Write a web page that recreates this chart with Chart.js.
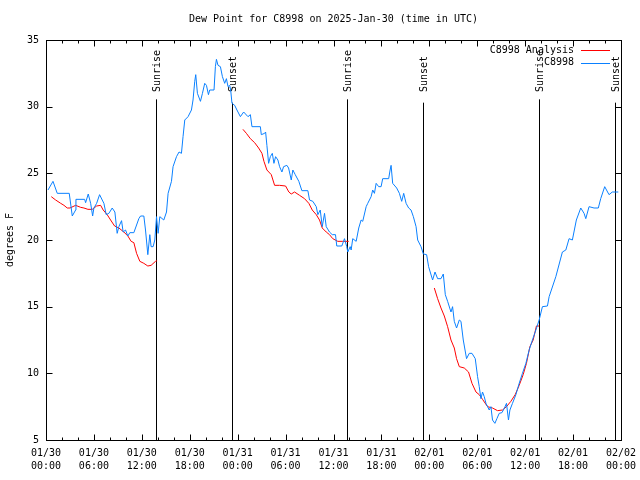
<!DOCTYPE html>
<html>
<head>
<meta charset="utf-8">
<script src="https://cdn.jsdelivr.net/npm/chart.js@4/dist/chart.umd.min.js"></script>
<style>
html,body{margin:0;padding:0;background:#fff;}
canvas{display:block;}
</style>
</head>
<body>
<canvas id="c" width="640" height="480"></canvas>
<script>
// Hours since 2025-01-30 00:00 UTC
const stationHours = [0.25,0.875,1.41,2.91,3.29,3.71,3.75,4.84,4.96,5.29,5.59,5.84,6.0,6.34,6.71,7.04,7.25,7.54,7.875,8.29,8.625,8.91,9.125,9.46,9.66,9.96,10.25,10.5,11.0,11.625,11.84,12.25,12.46,12.75,13.0,13.16,13.41,13.625,13.84,14.04,14.25,14.75,15.09,15.29,15.71,15.91,16.34,16.66,16.96,17.16,17.375,17.79,18.21,18.41,18.625,18.75,18.96,19.34,19.59,19.875,20.09,20.34,20.5,21.04,21.21,21.34,21.54,21.84,22.09,22.375,22.59,22.79,23.0,23.125,23.29,23.625,23.91,24.34,24.75,25.29,25.59,25.79,26.84,26.96,27.375,27.5,27.66,27.875,28.09,28.34,28.54,28.75,29.04,29.25,29.54,29.75,30.16,30.375,30.71,30.91,31.21,31.66,32.04,32.79,33.0,33.41,33.84,34.04,34.34,34.59,34.875,35.09,35.5,35.84,36.25,36.41,37.04,37.375,37.66,37.79,38.09,38.21,38.41,38.84,39.16,39.46,39.66,40.09,40.29,40.71,40.91,41.125,41.34,41.66,41.96,42.16,42.91,43.09,43.21,43.41,43.91,44.25,44.54,44.79,45.09,45.41,45.71,46.0,46.34,46.54,46.96,47.25,47.66,47.91,48.41,48.71,49.04,49.46,49.75,50.0,50.29,50.71,50.91,51.125,51.41,51.75,51.96,52.25,52.66,53.0,53.34,53.75,54.04,54.25,54.46,54.66,54.875,55.09,55.5,55.71,55.91,56.21,56.46,56.75,57.09,57.41,57.66,57.91,58.09,58.41,58.84,59.25,59.66,60.09,60.5,60.91,61.34,61.75,62.16,62.79,63.0,63.84,64.66,65.09,65.5,65.91,66.41,66.96,67.375,67.59,68.0,68.625,69.16,69.46,69.96,70.5,70.91,71.66];
const stationDewPoint = [23.75,24.4,23.5,23.5,21.8,22.25,23.05,23.05,22.8,23.45,22.75,21.8,22.4,22.75,23.4,23.0,22.75,21.9,22.0,22.4,22.1,20.5,21.0,21.45,20.6,20.75,20.3,20.55,20.55,21.6,21.8,21.8,20.75,18.9,20.4,19.5,19.5,20.0,21.75,20.5,21.75,21.5,22.1,23.5,24.4,25.5,26.25,26.6,26.5,27.75,29.0,29.25,29.75,30.5,31.9,32.4,31.0,30.4,31.0,31.75,31.6,30.9,31.25,31.25,33.0,33.55,33.1,33.0,32.25,31.75,32.1,31.5,31.6,31.25,30.25,30.1,29.75,29.25,29.6,29.25,29.4,28.5,28.5,27.9,28.0,28.1,27.1,25.75,26.25,26.5,25.75,26.25,26.0,25.5,25.1,25.5,25.6,25.4,24.5,25.25,24.9,24.4,23.7,23.7,23.0,22.9,22.5,21.9,22.25,21.0,22.0,21.0,20.6,20.4,20.4,19.55,19.55,20.1,19.5,19.1,19.5,19.25,20.1,19.9,20.9,21.5,21.4,22.5,22.75,23.25,23.75,23.5,24.25,24.0,24.0,24.6,24.6,25.25,25.6,24.25,23.9,23.5,22.9,23.5,22.75,22.4,22.25,21.75,21.0,20.0,19.5,18.95,18.9,18.0,17.0,17.6,17.1,17.1,17.45,15.9,15.4,14.6,15.0,13.9,13.4,14.0,13.9,12.5,11.1,11.5,11.5,11.1,9.75,9.0,8.1,8.6,8.25,7.75,7.25,7.5,6.5,6.25,6.6,7.0,7.05,7.4,7.75,6.5,7.25,7.75,8.4,9.25,10.0,10.75,11.75,12.5,13.25,14.0,15.0,15.05,15.75,17.25,19.1,19.25,20.1,20.0,21.5,22.4,22.0,21.6,22.5,22.4,22.4,23.1,24.0,23.4,23.6,23.6];

const analysisHours = [0.66,1.21,1.84,2.25,2.66,3.0,3.71,4.34,4.75,5.25,5.79,6.34,6.84,7.16,7.66,8.09,8.59,9.125,9.75,10.25,10.66,11.0,11.34,11.75,12.25,12.75,13.16,13.71,13.91,19.0,24.66,25.09,25.59,26.125,26.625,27.04,27.29,27.66,28.21,28.625,29.25,30.0,30.41,30.71,31.125,31.75,32.375,32.91,33.34,33.84,34.25,34.59,35.09,35.5,35.91,36.54,37.16,37.91,43.0,48.625,49.04,49.46,49.875,50.29,50.71,51.125,51.41,51.75,52.375,52.91,53.34,53.84,54.25,54.66,55.29,55.91,56.54,57.16,57.66,58.21,58.75,59.25,59.75,60.16,60.59,61.0,61.41,61.75];
const analysisDewPoint = [23.25,23.0,22.75,22.6,22.4,22.4,22.6,22.45,22.4,22.3,22.3,22.55,22.6,22.25,21.9,21.5,21.05,20.9,20.6,20.3,19.9,19.8,19.0,18.4,18.25,18.05,18.1,18.4,18.45,null,28.3,28.0,27.6,27.3,26.9,26.5,25.9,25.25,24.9,24.1,24.1,24.05,23.6,23.45,23.6,23.35,23.1,22.75,22.25,21.9,21.5,20.9,20.6,20.4,20.1,19.9,19.9,19.9,null,16.4,15.6,14.9,14.3,13.5,12.5,11.9,11.1,10.5,10.4,10.1,9.25,8.6,8.4,8.05,7.5,7.4,7.2,7.25,7.5,7.9,8.4,9.1,9.9,10.75,12.0,12.5,13.55,13.55];

const sunEventHours = [13.75, 23.3, 37.7, 47.25, 61.7, 71.3];
const sunEventNames = ['Sunrise','Sunset','Sunrise','Sunset','Sunrise','Sunset'];

const tickDates = ['01/30','01/30','01/30','01/30','01/31','01/31','01/31','01/31','02/01','02/01','02/01','02/01','02/02'];
const tickTimes = ['00:00','06:00','12:00','18:00','00:00','06:00','12:00','18:00','00:00','06:00','12:00','18:00','00:00'];
const yTickValues = [5,10,15,20,25,30,35];

const titleText = 'Dew Point for C8998 on 2025-Jan-30 (time in UTC)';
const yTitleText = 'degrees F';
const seriesNames = ['C8998 Analysis', 'C8998'];
const seriesColors = ['#ff0000', '#0a80ff'];

const FONT = '10px "DejaVu Sans Mono", "Liberation Mono", monospace';

function pts(xs, ys){ return xs.map((x,i)=>({x:x, y:ys[i]})); }

const decor = {
  id: 'decor',
  beforeDatasetsDraw(chart){
    const ctx = chart.ctx, xs = chart.scales.x, ys = chart.scales.y, a = chart.chartArea;
    ctx.save();
    ctx.strokeStyle = '#000'; ctx.lineWidth = 1;
    ctx.font = FONT; ctx.fillStyle = '#000';
    sunEventHours.forEach((h,i)=>{
      const x = Math.round(xs.getPixelForValue(h)) + 0.5;
      const top = ys.getPixelForValue(sunEventNames[i]==='Sunrise' ? 30.55 : 30.3);
      ctx.beginPath(); ctx.moveTo(x, top); ctx.lineTo(x, a.bottom); ctx.stroke();
      ctx.save();
      ctx.translate(x + 1, 92);
      ctx.rotate(-Math.PI/2);
      ctx.textAlign = 'left'; ctx.textBaseline = 'middle';
      ctx.fillText(sunEventNames[i], 0, 0);
      ctx.restore();
    });
    ctx.restore();
  },
  afterDatasetsDraw(chart){
    const ctx = chart.ctx, xs = chart.scales.x, ys = chart.scales.y, a = chart.chartArea;
    ctx.save();
    ctx.strokeStyle = '#000'; ctx.lineWidth = 1;
    const L = Math.round(a.left)+0.5, R = Math.round(a.right)+0.5, T = Math.round(a.top)+0.5, B = Math.round(a.bottom)+0.5;
    ctx.beginPath();
    for (let h = 0; h <= 72; h += 2) {
      const x = Math.round(xs.getPixelForValue(h)) + 0.5;
      const len = (h % 6 === 0) ? 6 : 3;
      ctx.moveTo(x, B); ctx.lineTo(x, B - len);
      ctx.moveTo(x, T); ctx.lineTo(x, T + len);
    }
    yTickValues.forEach(v=>{
      const y = Math.round(ys.getPixelForValue(v)) + 0.5;
      ctx.moveTo(L, y); ctx.lineTo(L + 6, y);
      ctx.moveTo(R, y); ctx.lineTo(R - 6, y);
    });
    ctx.stroke();
    ctx.strokeRect(L, T, R - L, B - T);

    ctx.font = FONT; ctx.fillStyle = '#000';
    ctx.textAlign = 'center'; ctx.textBaseline = 'middle';
    ctx.fillText(titleText, (a.left + a.right)/2, 19);
    ctx.save();
    ctx.translate(10, (a.top + a.bottom)/2);
    ctx.rotate(-Math.PI/2);
    ctx.fillText(yTitleText, 0, 0);
    ctx.restore();
    ctx.textAlign = 'right';
    seriesNames.forEach((n,i)=>{
      const y = 50 + i*12.5;
      ctx.fillStyle = '#000';
      ctx.fillText(n, 574, y);
      ctx.strokeStyle = seriesColors[i];
      ctx.beginPath(); ctx.moveTo(581, Math.round(y)+0.5); ctx.lineTo(610, Math.round(y)+0.5); ctx.stroke();
    });
    ctx.restore();
  }
};

new Chart(document.getElementById('c'), {
  type: 'line',
  data: {
    datasets: [
      { label: seriesNames[1], data: pts(stationHours, stationDewPoint), borderColor: seriesColors[1], borderWidth: 1, pointRadius: 0, tension: 0, fill: false, spanGaps: false },
      { label: seriesNames[0], data: pts(analysisHours, analysisDewPoint), borderColor: seriesColors[0], borderWidth: 1, pointRadius: 0, tension: 0, fill: false, spanGaps: false }
    ]
  },
  options: {
    responsive: false, animation: false, devicePixelRatio: 1,
    layout: { padding: { top: 40, right: 19, left: 0, bottom: 0 } },
    plugins: { legend: { display: false }, title: { display: false }, tooltip: { enabled: false } },
    scales: {
      x: {
        type: 'linear', min: 0, max: 72,
        grid: { display: false, drawTicks: false },
        border: { display: false },
        ticks: {
          stepSize: 6, autoSkip: false, maxRotation: 0, minRotation: 0, padding: 7,
          color: '#000', font: { family: '"DejaVu Sans Mono", "Liberation Mono", monospace', size: 10, lineHeight: 1.3 },
          callback: (v, i) => [tickDates[i], tickTimes[i]]
        },
        afterFit: s => { s.height = 40; s.paddingLeft = 0; s.paddingRight = 0; }
      },
      y: {
        min: 5, max: 35,
        grid: { display: false, drawTicks: false },
        border: { display: false },
        ticks: {
          stepSize: 5, padding: 7, color: '#000',
          font: { family: '"DejaVu Sans Mono", "Liberation Mono", monospace', size: 10 }
        },
        afterFit: s => { s.width = 46; s.paddingTop = 0; s.paddingBottom = 0; }
      }
    }
  },
  plugins: [decor]
});
</script>
</body>
</html>
